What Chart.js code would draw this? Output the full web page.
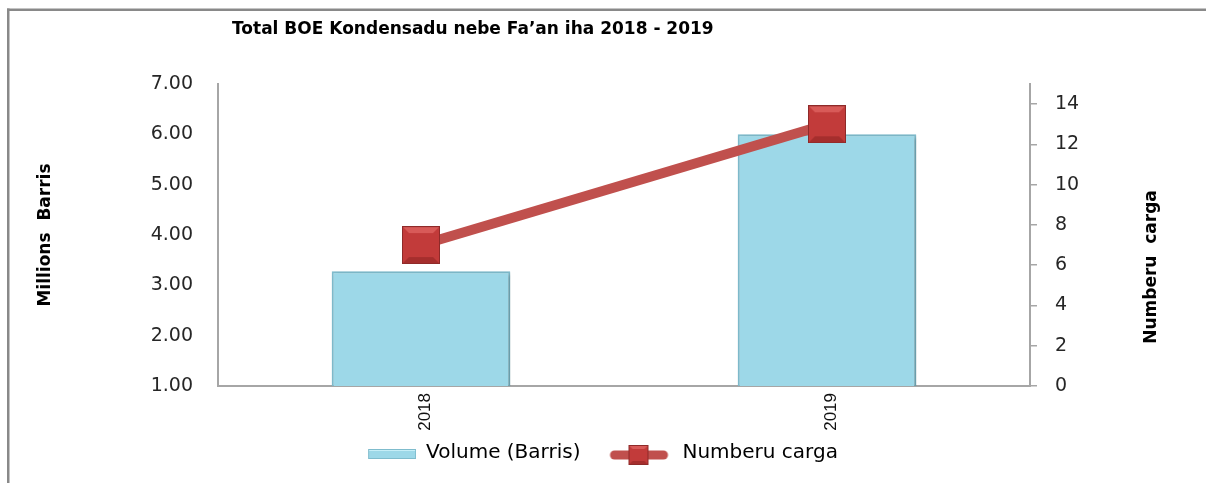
<!DOCTYPE html>
<html lang="tet">
<head>
  <meta charset="UTF-8" />
  <title>Total BOE Kondensadu nebe Fa’an iha 2018 - 2019</title>
  <script src="https://cdn.jsdelivr.net/npm/chart.js"></script>
  <style>
    html, body {
      margin: 0;
      padding: 0;
      background: #fff;
    }
    .wrap {
      position: relative;
      width: 1206px;
      height: 483px;
    }
  </style>
</head>
<body>
  <div class="wrap">
    <canvas id="chart" width="1206" height="483"></canvas>
  </div>

  <script>
    // data
    const years = ['2018', '2019'];
    const volume = [3.28, 6.0];        // millions barrels
    const cargoes = [7, 13];           // number of cargoes
    const volumeTicks = [1, 7, 1];     // min, max, step
    const cargoTicks = [0, 15, 2];

    const chartTitle = 'Total BOE Kondensadu nebe Fa’an iha 2018 - 2019';
    const leftTitle = 'Millions  Barris';
    const rightTitle = 'Numberu  carga';
    const legendNames = ['Volume (Barris)', 'Numberu carga'];

    const barColor = '#9dd8e8';
    const barEdge = '#7fbccd';
    const lineColor = '#c0504d';
    const axisGray = '#a6a6a6';
    const textColor = '#262626';

    // square marker with a little bevel
    function makeMarker(size) {
      const c = document.createElement('canvas');
      c.width = size; c.height = size;
      const g = c.getContext('2d');
      g.fillStyle = '#c23b3a';
      g.fillRect(0, 0, size, size);
      const b = Math.round(size * 0.18);
      g.fillStyle = '#d85a58';
      g.beginPath();
      g.moveTo(0, 0); g.lineTo(size, 0); g.lineTo(size - b, b); g.lineTo(b, b);
      g.closePath(); g.fill();
      g.fillStyle = '#a52e2d';
      g.beginPath();
      g.moveTo(0, size); g.lineTo(size, size); g.lineTo(size - b, size - b); g.lineTo(b, size - b);
      g.closePath(); g.fill();
      g.strokeStyle = '#8e2a29';
      g.lineWidth = 1;
      g.strokeRect(0.5, 0.5, size - 1, size - 1);
      return c;
    }

    const iconW = 82, iconH = 24;

    function barIcon() {
      const c = document.createElement('canvas');
      c.width = iconW; c.height = iconH;
      const g = c.getContext('2d');
      g.fillStyle = barColor;
      g.fillRect(iconW - 48, 8, 48, 10);
      g.fillStyle = '#c6eef7';
      g.fillRect(iconW - 48, 8, 48, 2);
      g.strokeStyle = barEdge;
      g.strokeRect(iconW - 47.5, 8.5, 47, 9);
      return c;
    }

    function lineIcon() {
      const c = document.createElement('canvas');
      c.width = iconW; c.height = iconH;
      const g = c.getContext('2d');
      g.strokeStyle = lineColor;
      g.lineWidth = 9;
      g.lineCap = 'round';
      g.beginPath();
      g.moveTo(iconW - 58, 14); g.lineTo(iconW - 9, 14);
      g.stroke();
      const m = makeMarker(20);
      g.drawImage(m, iconW - 44, 4);
      return c;
    }

    const frameAndTitle = {
      id: 'frameAndTitle',
      beforeDraw(chart) {
        const ctx = chart.ctx;
        ctx.save();
        ctx.fillStyle = '#898989';
        ctx.fillRect(7, 8.5, 1199, 2.5);
        ctx.fillRect(7, 8.5, 2.5, 475);
        ctx.fillStyle = '#000';
        ctx.font = 'bold 17px "DejaVu Sans"';
        ctx.textBaseline = 'alphabetic';
        ctx.fillText(chartTitle, 232, 34);
        ctx.restore();
      },
      afterDraw(chart) {
        // right axis title reads bottom-to-top, like the left one
        const ctx = chart.ctx;
        ctx.save();
        ctx.translate(1152, 267);
        ctx.rotate(-Math.PI / 2);
        ctx.fillStyle = '#000';
        ctx.font = 'bold 17px "DejaVu Sans"';
        ctx.textAlign = 'center';
        ctx.textBaseline = 'middle';
        ctx.fillText(rightTitle, 0, 0);
        ctx.restore();
      }
    };

    const barShadow = {
      id: 'barShadow',
      beforeDatasetDraw(chart, args) {
        if (args.index !== 0) return;
        const ctx = chart.ctx;
        ctx.save();
        ctx.shadowColor = 'rgba(0,0,0,0.28)';
        ctx.shadowBlur = 4;
        ctx.shadowOffsetX = 2;
        ctx.shadowOffsetY = 2;
      },
      afterDatasetDraw(chart, args) {
        if (args.index !== 0) return;
        chart.ctx.restore();
      }
    };

    Chart.defaults.font.family = '"DejaVu Sans"';
    Chart.defaults.color = textColor;

    const ctx = document.getElementById('chart').getContext('2d');

    new Chart(ctx, {
      type: 'bar',
      data: {
        labels: years,
        datasets: [
          {
            type: 'bar',
            label: legendNames[0],
            data: volume,
            yAxisID: 'y',
            backgroundColor: barColor,
            borderColor: barEdge,
            borderWidth: 2,
            categoryPercentage: 1,
            barPercentage: 0.44,
            order: 2
          },
          {
            type: 'line',
            label: legendNames[1],
            data: cargoes,
            yAxisID: 'y1',
            borderColor: lineColor,
            borderWidth: 10,
            pointStyle: makeMarker(38),
            pointRadius: 19,
            pointHoverRadius: 19,
            order: 1
          }
        ]
      },
      options: {
        responsive: false,
        animation: false,
        layout: {
          padding: { left: 0, right: 34, top: 84, bottom: 10 }
        },
        plugins: {
          tooltip: { enabled: false },
          legend: {
            position: 'bottom',
            labels: {
              usePointStyle: true,
              pointStyleWidth: iconW,
              padding: 10,
              font: { size: 20 },
              color: textColor,
              generateLabels() {
                return [
                  { text: legendNames[0], pointStyle: barIcon(), datasetIndex: 0, fillStyle: barColor, strokeStyle: barEdge, lineWidth: 0 },
                  { text: legendNames[1], pointStyle: lineIcon(), datasetIndex: 1, fillStyle: lineColor, strokeStyle: lineColor, lineWidth: 0 }
                ];
              }
            }
          }
        },
        scales: {
          x: {
            grid: { display: false, drawTicks: false },
            border: { display: true, color: axisGray, width: 2 },
            ticks: {
              minRotation: 90,
              maxRotation: 90,
              padding: 7,
              labelOffset: 4,
              color: '#111',
              font: { family: '"Liberation Sans"', size: 17 }
            },
            afterFit(scale) { scale.height = 47; }
          },
          y: {
            position: 'left',
            min: volumeTicks[0],
            max: volumeTicks[1],
            grid: { display: false, drawTicks: false },
            border: { display: true, color: axisGray, width: 2 },
            ticks: {
              stepSize: volumeTicks[2],
              padding: 25,
              font: { size: 19 },
              callback: v => v.toFixed(2)
            },
            title: {
              display: true,
              text: leftTitle,
              color: '#000',
              font: { size: 17, weight: 'bold' },
              padding: { top: 35, bottom: 0 }
            },
            afterFit(scale) { scale.width = 218; }
          },
          y1: {
            position: 'right',
            min: cargoTicks[0],
            max: cargoTicks[1],
            grid: {
              display: true,
              drawOnChartArea: false,
              drawTicks: true,
              tickLength: 7,
              color: axisGray,
              lineWidth: 1.5
            },
            border: { display: true, color: axisGray, width: 2 },
            ticks: {
              stepSize: cargoTicks[2],
              includeBounds: false,
              padding: 18,
              font: { size: 19 }
            },
            afterFit(scale) { scale.width = 142; }
          }
        }
      },
      plugins: [frameAndTitle, barShadow]
    });
  </script>
</body>
</html>
